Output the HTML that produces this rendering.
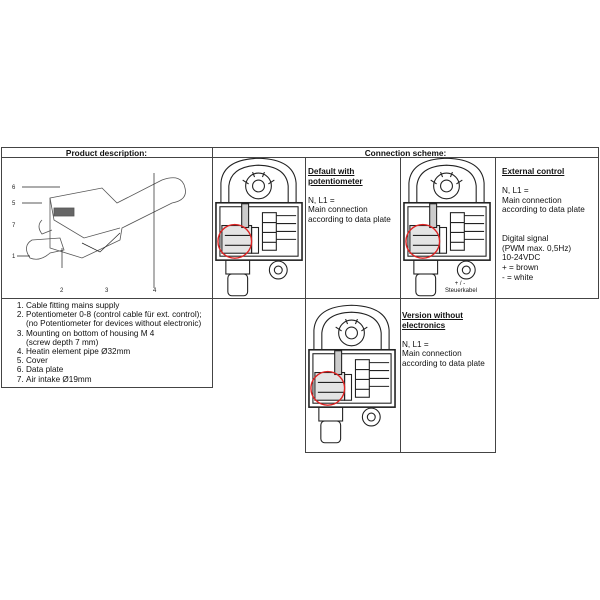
<!DOCTYPE html>
<html><head><style>
body{margin:0;width:600px;height:600px;background:#fff;font-family:"Liberation Sans",sans-serif;color:#111;position:relative;overflow:hidden}
.a{position:absolute}
.b{position:absolute;background:#444}
.t{font-size:8.2px;line-height:9.6px}
.h{font-weight:bold;font-size:8.3px;text-align:center}
.u{font-weight:bold;text-decoration:underline}
ol{margin:0;padding-left:20px}
</style></head><body>
<svg width="0" height="0" style="position:absolute">
<defs>
<symbol id="dev" viewBox="0 0 93 141">
<g fill="none" stroke="#222" stroke-width="1.1">
<path d="M8 45 L8 25 Q10 1 46 0 Q82 1 84 25 L84 45"/>
<path d="M16 45 L16 28 Q18 8 46 7 Q74 8 76 28 L76 45"/>
<circle cx="46" cy="28" r="13"/><circle cx="46" cy="28" r="6"/>
<path d="M30 22l6 4M62 22l-6 4M40 14l2 5M52 14l-2 5"/>
<rect x="3" y="45" width="87" height="58" fill="#fff" stroke-width="1.6"/>
<rect x="7" y="49" width="79" height="50"/>
<rect x="9" y="68" width="30" height="28" fill="#e4e4e4"/>
<rect x="39" y="70" width="7" height="26"/>
<rect x="29" y="46" width="7" height="24" fill="#ccc"/>
<rect x="50" y="55" width="14" height="38"/>
<path d="M64 58h20M64 66h20M64 74h20M64 82h20M50 65h14M50 75h14M50 85h14M12 78h26M12 88h26"/>
<rect x="13" y="103" width="24" height="14"/><rect x="15" y="117" width="20" height="22" rx="4"/>
<circle cx="66" cy="113" r="9"/><circle cx="66" cy="113" r="4"/>
</g>
<circle cx="22" cy="84" r="17" fill="none" stroke="#d22" stroke-width="1.4"/>
</symbol>
</defs></svg>

<div class="b" style="left:1px;top:147px;width:598px;height:1px"></div>
<div class="b" style="left:1px;top:157px;width:598px;height:1px"></div>
<div class="b" style="left:1px;top:298px;width:598px;height:1px"></div>
<div class="b" style="left:1px;top:387px;width:211px;height:1px"></div>
<div class="b" style="left:305px;top:452px;width:190px;height:1px"></div>
<div class="b" style="left:1px;top:147px;width:1px;height:241px"></div>
<div class="b" style="left:212px;top:147px;width:1px;height:241px"></div>
<div class="b" style="left:598px;top:147px;width:1px;height:152px"></div>
<div class="b" style="left:305px;top:157px;width:1px;height:296px"></div>
<div class="b" style="left:400px;top:157px;width:1px;height:296px"></div>
<div class="b" style="left:495px;top:157px;width:1px;height:296px"></div>

<div class="a h" style="left:1px;top:148px;width:211px">Product description:</div>
<div class="a h" style="left:212px;top:148px;width:387px">Connection scheme:</div>

<svg class="a" style="left:2px;top:158px" width="210" height="140">
<g fill="none" stroke="#555" stroke-width="0.8">
<path d="M48 40 L100 30 L115 45 L160 22 Q180 15 183 30 Q186 42 170 45 L120 70 L118 82 L80 100 L48 90 Z"/>
<path d="M48 40 L52 62 L82 80 L118 70"/>
<path d="M30 82 Q20 88 28 100 Q38 104 48 95 L62 92 L58 80 Z"/>
<path d="M40 62 Q34 68 40 76 L50 72"/>
<rect x="52" y="50" width="20" height="8" fill="#666"/>
</g>
<g stroke="#222" stroke-width="0.7" fill="none">
<path d="M20 29H58M20 45H40M15 98H28M60 110V90M80 85L98 94L118 75M152 130V15"/>
</g>
<g font-size="6" fill="#222" font-family="Liberation Sans">
<text x="10" y="31">6</text><text x="10" y="47">5</text><text x="10" y="69">7</text><text x="10" y="100">1</text>
<text x="58" y="134">2</text><text x="103" y="134">3</text><text x="151" y="134">4</text></g>
</svg>

<div class="a t" style="left:6px;top:301px;width:206px;line-height:9.2px">
<ol>
<li>Cable fitting mains supply</li>
<li>Potentiometer 0-8 (control cable für ext. control);<br>(no Potentiometer for devices without electronic)</li>
<li>Mounting on bottom of housing M 4<br>(screw depth 7 mm)</li>
<li>Heatin element pipe Ø32mm</li>
<li>Cover</li>
<li>Data plate</li>
<li>Air intake Ø19mm</li>
</ol></div>

<svg class="a" style="left:213px;top:158px" width="92" height="140"><use href="#dev"/></svg>
<svg class="a" style="left:401px;top:158px" width="92" height="140"><use href="#dev"/></svg>
<svg class="a" style="left:306px;top:299px" width="92" height="152"><use href="#dev"/></svg>
<div class="a" style="left:445px;top:281px;font-size:6px;text-align:center;width:30px;line-height:7px">+ / -<br>Steuerkabel</div>

<div class="a t" style="left:308px;top:167px"><span class="u">Default with<br>potentiometer</span><br><br>N, L1 =<br>Main connection<br>according to data plate</div>
<div class="a t" style="left:502px;top:167px"><span class="u">External control</span><br><br>N, L1 =<br>Main connection<br>according to data plate<br><br><br>Digital signal<br>(PWM max. 0,5Hz)<br>10-24VDC<br>+ = brown<br>- = white</div>
<div class="a t" style="left:402px;top:311px"><span class="u">Version without<br>electronics</span><br><br>N, L1 =<br>Main connection<br>according to data plate</div>
</body></html>
